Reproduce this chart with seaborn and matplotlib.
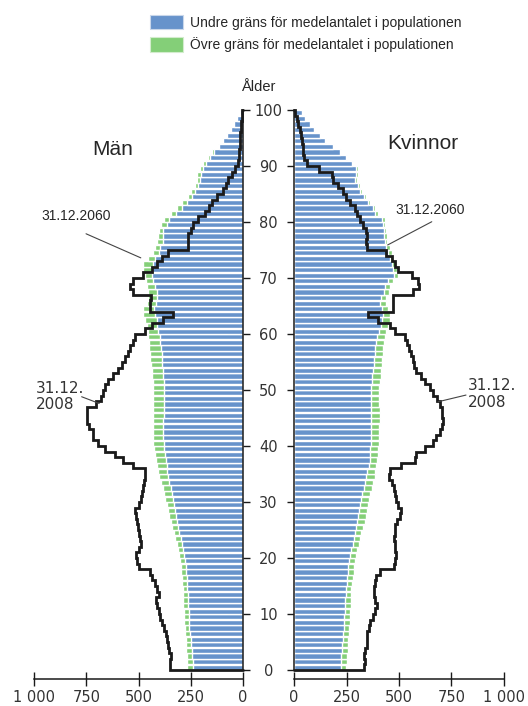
import numpy as np
import pandas as pd
import seaborn as sns
import matplotlib.pyplot as plt
from matplotlib.patches import Patch

# --- data: population by age (0..99), 2060 projection bounds and 2008 line ---
ages = list(range(100))

men_lower = [238, 241, 244, 246, 249, 251, 254, 256, 257, 259,
             260, 261, 262, 264, 266, 268, 270, 271, 273, 277,
             282, 287, 293, 299, 305, 309, 314, 320, 325, 329,
             333, 340, 346, 352, 357, 362, 366, 370, 373, 377,
             380, 381, 381, 381, 381, 380, 379, 378, 378, 378,
             378, 380, 382, 384, 386, 388, 389, 392, 395, 397,
             405, 410, 413, 421, 424, 418, 412, 413, 421, 430,
             437, 437, 429, 421, 400, 397, 384, 384, 381, 365,
             353, 321, 293, 270, 246, 230, 214, 206, 202, 190,
             177, 158, 137, 113, 94, 75, 59, 43, 27, 14]

men_upper = [266, 268, 270, 272, 273, 275, 276, 279, 281, 283,
             284, 285, 286, 288, 289, 291, 293, 295, 297, 301,
             305, 311, 317, 323, 330, 338, 346, 352, 357, 365,
             372, 379, 385, 393, 400, 405, 411, 416, 421, 426,
             430, 432, 432, 432, 432, 431, 430, 430, 429, 429,
             429, 432, 435, 437, 440, 443, 445, 448, 451, 453,
             453, 461, 469, 477, 477, 461, 455, 453, 461, 465,
             469, 477, 477, 453, 429, 420, 410, 405, 400, 390,
             380, 345, 315, 290, 265, 248, 230, 222, 218, 205,
             190, 168, 146, 120, 100, 80, 63, 46, 29, 15]

men_2008 = [349, 349, 346, 353, 360, 365, 368, 378, 389, 397,
            402, 410, 416, 402, 410, 421, 437, 445, 496, 505,
            512, 496, 490, 493, 496, 501, 509, 514, 516, 496,
            490, 485, 480, 474, 469, 469, 525, 576, 612, 660,
            692, 716, 716, 735, 745, 745, 745, 703, 681, 670,
            660, 644, 620, 598, 580, 564, 549, 540, 528, 516,
            469, 437, 381, 333, 445, 445, 440, 525, 541, 525,
            477, 437, 413, 389, 360, 262, 262, 262, 250, 238,
            214, 182, 165, 150, 126, 97, 81, 70, 54, 38,
            22, 20, 18, 16, 14, 12, 10, 8, 5, 3]

women_lower = [222, 224, 225, 227, 229, 231, 233, 236, 238, 240,
               241, 243, 244, 246, 248, 251, 254, 256, 257, 261,
               265, 273, 281, 285, 289, 295, 300, 306, 311, 314,
               317, 325, 333, 338, 343, 349, 355, 360, 362, 364,
               365, 366, 367, 368, 368, 368, 368, 368, 368, 368,
               368, 371, 373, 376, 379, 381, 384, 387, 389, 397,
               405, 413, 418, 422, 418, 410, 413, 429, 433, 449,
               476, 471, 467, 456, 448, 440, 432, 430, 429, 424,
               419, 387, 376, 352, 333, 313, 305, 292, 297, 297,
               276, 249, 218, 186, 149, 122, 95, 75, 54, 38]

women_upper = [249, 252, 254, 256, 257, 259, 261, 263, 265, 267,
               268, 270, 271, 272, 273, 277, 281, 284, 286, 290,
               294, 301, 308, 314, 321, 329, 337, 343, 349, 352,
               356, 364, 371, 378, 384, 387, 392, 397, 400, 402,
               403, 405, 406, 407, 408, 408, 408, 407, 406, 406,
               406, 410, 413, 416, 418, 419, 422, 425, 427, 433,
               440, 449, 455, 457, 449, 440, 438, 452, 457, 470,
               495, 490, 485, 470, 465, 458, 444, 445, 440, 435,
               432, 398, 385, 362, 345, 323, 312, 298, 305, 305,
               283, 254, 223, 191, 153, 126, 98, 77, 56, 40]

women_2008 = [333, 337, 333, 340, 346, 347, 349, 355, 360, 376,
              384, 397, 387, 381, 381, 385, 392, 408, 476, 479,
              487, 483, 479, 476, 479, 483, 489, 503, 508, 495,
              485, 479, 476, 467, 451, 456, 511, 575, 583, 622,
              662, 678, 694, 705, 710, 705, 705, 694, 683, 662,
              646, 625, 606, 583, 571, 565, 559, 546, 540, 529,
              479, 456, 402, 354, 470, 471, 470, 568, 597, 592,
              560, 497, 481, 465, 440, 346, 343, 349, 343, 330,
              312, 300, 290, 267, 248, 235, 211, 187, 179, 121,
              60, 48, 44, 42, 40, 35, 28, 20, 12, 5]

age_ticks = list(range(0, 101, 10))
x_ticks = [0, 250, 500, 750, 1000]
x_tick_labels = ["0", "250", "500", "750", "1 000"]

legend_labels = ["Undre gräns för medelantalet i populationen",
                 "Övre gräns för medelantalet i populationen"]

# --- style ---
sns.set_style("white")
plt.rcParams["font.family"] = ["DejaVu Sans"]
arial = "Liberation Sans"

blue = "#6793cb"
green = "#84cf78"
line_col = "#1a1a1a"
num_col = "#333333"

df = pd.DataFrame({
    "age": ages,
    "men_lower": men_lower, "men_upper": men_upper, "men_2008": men_2008,
    "women_lower": women_lower, "women_upper": women_upper, "women_2008": women_2008,
})
df["mid"] = df["age"] + 0.5

W, H = 528, 706
fig = plt.figure(figsize=(W / 100, H / 100), dpi=100)
ax_m = fig.add_axes([34 / W, 1 - 679 / H, 209 / W, 569 / H])
ax_k = fig.add_axes([294 / W, 1 - 679 / H, 210 / W, 569 / H])


def outline(col):
    vals = df[col].to_numpy()
    xs = np.concatenate([[0], np.repeat(vals, 2), [0]])
    ys = np.concatenate([[0], np.ravel([[a, a + 1] for a in ages]), [100]])
    return xs, ys


for ax, side in [(ax_m, "men"), (ax_k, "women")]:
    sns.barplot(data=df, x=f"{side}_upper", y="mid", orient="y", native_scale=True,
                color=green, saturation=1, width=0.92, errorbar=None, ax=ax)
    sns.barplot(data=df, x=f"{side}_lower", y="mid", orient="y", native_scale=True,
                color=blue, saturation=1, width=0.92, errorbar=None, ax=ax)
    xs, ys = outline(f"{side}_2008")
    ax.plot(xs, ys, color=line_col, lw=2.0, solid_joinstyle="miter", clip_on=False)

    ax.set_ylim(-1.6, 100)
    ax.set_xlabel("")
    ax.set_ylabel("")
    ax.set_facecolor("none")
    ax.spines["top"].set_visible(False)
    ax.set_xticks(x_ticks)
    ax.set_xticklabels(x_tick_labels)
    ax.tick_params(axis="x", bottom=True, direction="inout", length=9.5, width=1.0, pad=3,
                   labelsize=10.5, labelcolor=num_col, color=line_col)
    ax.spines["bottom"].set_color(line_col)
    ax.spines["bottom"].set_linewidth(1.1)

ax_m.set_xlim(1000, 0)
ax_k.set_xlim(0, 1000)

# left panel: vertical axis on the right side, no labels
ax_m.spines["left"].set_visible(False)
ax_m.spines["right"].set_bounds(0, 100)
ax_m.spines["right"].set_color(line_col)
ax_m.spines["right"].set_linewidth(1.1)
ax_m.yaxis.tick_right()
ax_m.set_yticks(age_ticks)
ax_m.tick_params(axis="y", left=False, right=True, direction="out", length=5, width=1.0,
                 labelright=False, labelleft=False, color=line_col)

# right panel: vertical axis on the left, labels centred between panels
ax_k.spines["right"].set_visible(False)
ax_k.spines["left"].set_bounds(0, 100)
ax_k.spines["left"].set_color(line_col)
ax_k.spines["left"].set_linewidth(1.1)
ax_k.set_yticks(age_ticks)
ax_k.set_yticklabels([str(a) for a in age_ticks], ha="center")
ax_k.tick_params(axis="y", left=True, right=False, direction="out", length=5, width=1.0,
                 pad=13.5, labelsize=10.5, labelcolor=num_col, color=line_col)

# panel titles
ax_m.text(624, 92.0, "Män", ha="center", va="baseline", family=arial, fontsize=15)
ax_k.text(612, 93.1, "Kvinnor", ha="center", va="baseline", family=arial, fontsize=15)

# annotations
thin = dict(arrowstyle="-", color="#444444", lw=0.8, shrinkA=0, shrinkB=0)
ax_m.text(797, 80.4, "31.12.2060", ha="center", va="baseline", family=arial, fontsize=10)
ax_m.annotate("", xy=(489, 73.6), xytext=(751, 77.9), arrowprops=thin)
ax_k.text(650, 81.4, "31.12.2060", ha="center", va="baseline", family=arial, fontsize=10)
ax_k.annotate("", xy=(446, 75.9), xytext=(656, 80.05), arrowprops=thin)

ax_m.text(990, 48.9, "31.12.\n2008", ha="left", va="center", fontsize=11,
          color=num_col, linespacing=1.1)
ax_m.annotate("", xy=(688, 47.6), xytext=(772, 48.8), arrowprops=thin)
ax_k.text(829, 49.3, "31.12.\n2008", ha="left", va="center", fontsize=11,
          color=num_col, linespacing=1.1)
ax_k.annotate("", xy=(686, 47.9), xytext=(819, 49.1), arrowprops=thin)

# axis title between the panels
fig.text(258 / W, 1 - 90.7 / H, "Ålder", ha="center", va="baseline", family=arial, fontsize=10.5)

# legend
handles = [Patch(facecolor=blue, edgecolor="#c9d7ea", lw=0.8, label=legend_labels[0]),
           Patch(facecolor=green, edgecolor="#d3eccd", lw=0.8, label=legend_labels[1])]
fig.legend(handles=handles, loc="upper left", bbox_to_anchor=(150 / W, 1 - 15 / H),
           frameon=False, borderpad=0, borderaxespad=0, handlelength=2.4,
           handleheight=1.2, handletextpad=0.5, labelspacing=0.53,
           prop={"family": arial, "size": 10})

fig.savefig("out.png", dpi=100)
